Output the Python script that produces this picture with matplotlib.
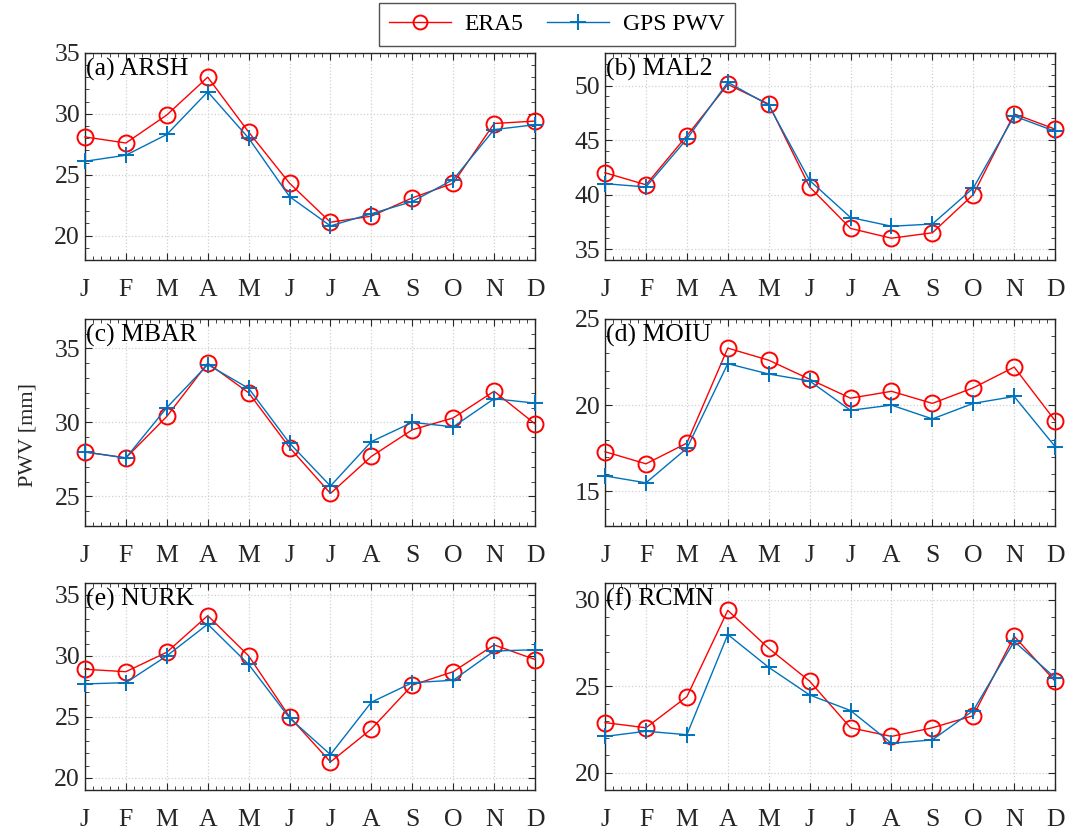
import numpy as np
import matplotlib.pyplot as plt
from matplotlib.ticker import MultipleLocator, AutoMinorLocator
from matplotlib.lines import Line2D

plt.rcParams['font.family'] = ['Liberation Serif', 'DejaVu Serif']

months = ['J', 'F', 'M', 'A', 'M', 'J', 'J', 'A', 'S', 'O', 'N', 'D']
stations = ['(a) ARSH', '(b) MAL2', '(c) MBAR', '(d) MOIU', '(e) NURK', '(f) RCMN']

era5 = [
    [28.1, 27.6, 29.9, 33.0, 28.5, 24.3, 21.1, 21.6, 23.1, 24.3, 29.2, 29.4],
    [42.0, 40.9, 45.4, 50.1, 48.3, 40.7, 36.9, 36.0, 36.5, 40.0, 47.4, 46.0],
    [28.0, 27.6, 30.4, 34.0, 32.0, 28.3, 25.2, 27.7, 29.5, 30.3, 32.1, 29.9],
    [17.3, 16.6, 17.8, 23.3, 22.6, 21.5, 20.4, 20.8, 20.1, 21.0, 22.2, 19.1],
    [28.9, 28.7, 30.3, 33.3, 30.0, 25.0, 21.3, 24.0, 27.6, 28.7, 30.9, 29.7],
    [22.9, 22.6, 24.4, 29.4, 27.2, 25.3, 22.6, 22.1, 22.6, 23.3, 27.9, 25.3],
]
gps = [
    [26.1, 26.6, 28.3, 31.8, 28.0, 23.2, 20.8, 21.8, 22.8, 24.6, 28.7, 29.1],
    [41.0, 40.7, 45.1, 50.3, 48.2, 41.3, 37.9, 37.1, 37.3, 40.6, 47.2, 45.8],
    [28.0, 27.6, 31.0, 33.9, 32.3, 28.6, 25.7, 28.7, 30.0, 29.7, 31.6, 31.3],
    [15.9, 15.5, 17.5, 22.4, 21.8, 21.4, 19.7, 20.0, 19.2, 20.1, 20.5, 17.6],
    [27.7, 27.8, 30.0, 32.6, 29.3, 24.9, 21.9, 26.2, 27.8, 28.0, 30.4, 30.5],
    [22.1, 22.4, 22.2, 28.0, 26.1, 24.5, 23.6, 21.7, 21.9, 23.6, 27.6, 25.5],
]
ylims = [(18, 35), (34, 53), (23, 37), (13, 25), (19, 36), (19, 31)]

red = '#FF0000'
blue = '#0072BD'

fig = plt.figure(figsize=(10.69, 8.34), dpi=100)
lefts = [0.0795, 0.566]
bottoms = [0.6882, 0.3693, 0.0528]
w, h = 0.421, 0.2485

x = np.arange(1, 13)
for i in range(6):
    r, c = divmod(i, 2)
    ax = fig.add_axes([lefts[c], bottoms[r], w, h])
    ax.plot(x, era5[i], '-o', color=red, lw=1.0, ms=11.5, mfc='none', mew=1.4,
            zorder=3, clip_on=False)
    ax.plot(x, gps[i], '-+', color=blue, lw=1.0, ms=12, mew=1.4, zorder=4,
            clip_on=False)
    ax.set_xlim(1, 12)
    ax.set_ylim(*ylims[i])
    ax.set_xticks(x)
    ax.set_xticklabels(months)
    ax.yaxis.set_major_locator(MultipleLocator(5))
    ax.xaxis.set_minor_locator(AutoMinorLocator(5))
    ax.yaxis.set_minor_locator(MultipleLocator(1))
    ax.tick_params(which='both', direction='in', top=True, right=True,
                   labelsize=18.5, colors='#262626')
    ax.tick_params(axis='x', which='major', pad=14)
    ax.tick_params(which='major', length=5)
    ax.tick_params(which='minor', length=3)
    ax.grid(True, which='major', ls=':', color='#d0d0d0', lw=0.9)
    for s in ax.spines.values():
        s.set_color('#262626')
        s.set_linewidth(1.0)
    ax.text(0.003, 0.975, stations[i], transform=ax.transAxes, fontsize=18.5,
            va='top', ha='left', color='black')

fig.text(0.026, 0.478, 'PWV [mm]', rotation=90, fontsize=16, va='center',
         ha='center', color='#262626')

handles = [
    Line2D([], [], color=red, marker='o', lw=1.0, ms=10, mfc='none', mew=1.4),
    Line2D([], [], color=blue, marker='+', lw=1.0, ms=11, mew=1.4),
]
fig.legend(handles, ['ERA5', 'GPS PWV'], loc='upper center', ncol=2,
           bbox_to_anchor=(0.521, 0.996), fontsize=17, frameon=True,
           fancybox=False, edgecolor='#262626', handlelength=2.6,
           columnspacing=1.0, borderpad=0.45, handletextpad=0.6,
           borderaxespad=0.0)

fig.savefig('out.png', dpi=100)
